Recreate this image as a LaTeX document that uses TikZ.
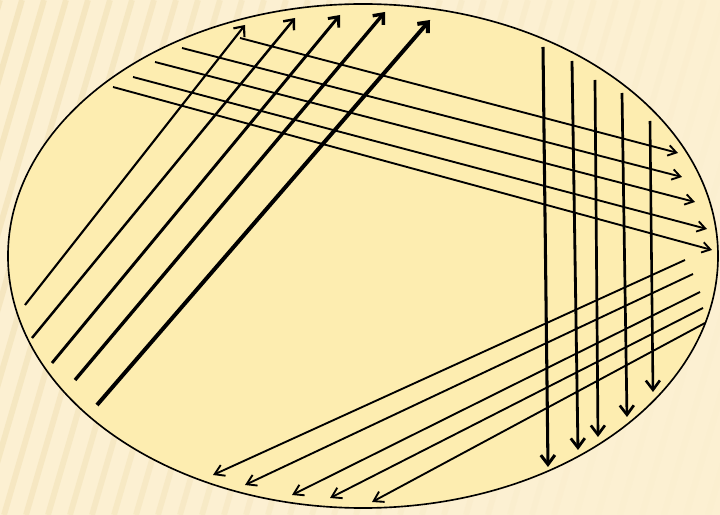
\documentclass[tikz,border=0pt]{standalone}
\usetikzlibrary{arrows.meta}
\definecolor{bgcolor}{RGB}{252,240,210}
\definecolor{stripecolor}{RGB}{240,223,178}
\definecolor{platecolor}{RGB}{253,237,176}
\begin{document}
\begin{tikzpicture}[
  x=0.03cm, y=-0.03cm,
  % --- Styles ---
  stripe/.style={stripecolor, line width=5pt},
  plate/.style={draw=black, fill=platecolor, line width=1.4pt},
  upstreak/.style={-{Straight Barb[length=7pt, width=12pt]}, line width=#1},
  sidestreak/.style={-{Straight Barb[length=7pt, width=9pt]}, line width=1.6pt},
  downstreak/.style={-{Straight Barb[length=8pt, width=12pt]}, line width=#1},
  backstreak/.style={-{Straight Barb[length=8pt, width=10pt]}, line width=1.6pt},
]
% === BACKGROUND ===
\fill[bgcolor] (0,0) rectangle (720,515);
\begin{scope}
\clip (0,0) rectangle (720,515);
\foreach \x in {-150,-128,...,720} {
  \pgfmathsetmacro{\op}{max(0.05,0.5-\x/1300)}
  \draw[stripe, opacity=\op] (\x,515) -- ++(150,-515);
}
\end{scope}
% === PLATE ===
\path[plate] (363,256) ellipse [x radius=10.65cm, y radius=7.56cm];
% === STREAKS ===
% first set, up to the right
\foreach \xa/\ya/\xb/\yb/\w in {25/305/245/25/1.8pt, 32/338/295/18/2.1pt,
    52/363/340/15/2.5pt, 75/380/385/12/2.9pt, 97/405/430/20/3.4pt}
  \draw[upstreak=\w] (\xa,\ya) -- (\xb,\yb);
% second set, across to the right
\foreach \xa/\ya/\xb/\yb in {240/38/678/153, 182/48/682/177, 155/62/695/202,
    133/77/707/229, 113/87/712/250}
  \draw[sidestreak] (\xa,\ya) -- (\xb,\yb);
% third set, down
\foreach \xa/\ya/\xb/\yb/\w in {543/47/548/467/2.6pt, 572/61/578/450/2.4pt,
    595/80/598/437/2.3pt, 622/93/627/417/2.3pt, 650/121/653/392/2.2pt}
  \draw[downstreak=\w] (\xa,\ya) -- (\xb,\yb);
% fourth set, back to the left
\foreach \xa/\ya/\xb/\yb in {685/260/213/475, 693/274/245/485, 700/292/292/495,
    703/308/330/498, 705/323/372/502}
  \draw[backstreak] (\xa,\ya) -- (\xb,\yb);
\end{tikzpicture}
\end{document}
